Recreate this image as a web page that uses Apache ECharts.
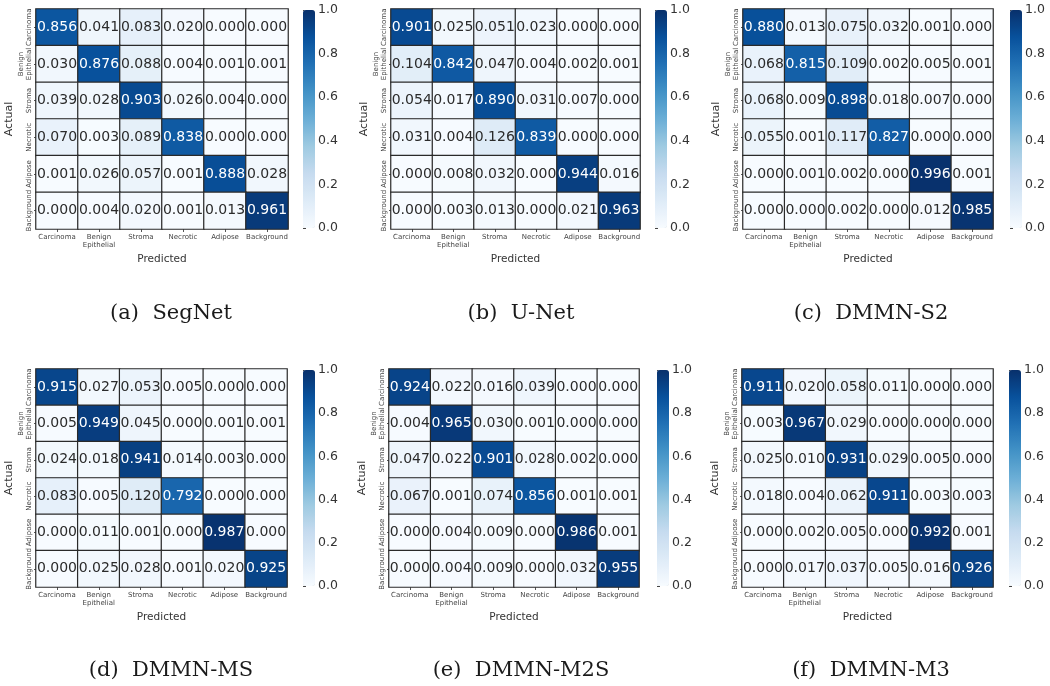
<!DOCTYPE html>
<html>
<head>
<meta charset="utf-8">
<script src="https://cdn.jsdelivr.net/npm/echarts@6/dist/echarts.min.js"></script>
<style>html,body{margin:0;padding:0;background:#fff;}#chart{width:1050px;height:686px;}</style>
</head>
<body>
<div id="chart"></div>
<script>
// ---- data ----
const predictedLabels = ['Carcinoma', 'Benign\nEpithelial', 'Stroma', 'Necrotic', 'Adipose', 'Background'];
const actualLabels = ['Carcinoma', 'Benign\nEpithelial', 'Stroma', 'Necrotic', 'Adipose', 'Background'];
const captions = ['(a)  SegNet', '(b)  U-Net', '(c)  DMMN-S2', '(d)  DMMN-MS', '(e)  DMMN-M2S', '(f)  DMMN-M3'];
const colorbarTicks = [0.0, 0.2, 0.4, 0.6, 0.8, 1.0];

const segnet = [
  [0.856, 0.041, 0.083, 0.020, 0.000, 0.000],
  [0.030, 0.876, 0.088, 0.004, 0.001, 0.001],
  [0.039, 0.028, 0.903, 0.026, 0.004, 0.000],
  [0.070, 0.003, 0.089, 0.838, 0.000, 0.000],
  [0.001, 0.026, 0.057, 0.001, 0.888, 0.028],
  [0.000, 0.004, 0.020, 0.001, 0.013, 0.961]
];
const unet = [
  [0.901, 0.025, 0.051, 0.023, 0.000, 0.000],
  [0.104, 0.842, 0.047, 0.004, 0.002, 0.001],
  [0.054, 0.017, 0.890, 0.031, 0.007, 0.000],
  [0.031, 0.004, 0.126, 0.839, 0.000, 0.000],
  [0.000, 0.008, 0.032, 0.000, 0.944, 0.016],
  [0.000, 0.003, 0.013, 0.000, 0.021, 0.963]
];
const dmmnS2 = [
  [0.880, 0.013, 0.075, 0.032, 0.001, 0.000],
  [0.068, 0.815, 0.109, 0.002, 0.005, 0.001],
  [0.068, 0.009, 0.898, 0.018, 0.007, 0.000],
  [0.055, 0.001, 0.117, 0.827, 0.000, 0.000],
  [0.000, 0.001, 0.002, 0.000, 0.996, 0.001],
  [0.000, 0.000, 0.002, 0.000, 0.012, 0.985]
];
const dmmnMS = [
  [0.915, 0.027, 0.053, 0.005, 0.000, 0.000],
  [0.005, 0.949, 0.045, 0.000, 0.001, 0.001],
  [0.024, 0.018, 0.941, 0.014, 0.003, 0.000],
  [0.083, 0.005, 0.120, 0.792, 0.000, 0.000],
  [0.000, 0.011, 0.001, 0.000, 0.987, 0.000],
  [0.000, 0.025, 0.028, 0.001, 0.020, 0.925]
];
const dmmnM2S = [
  [0.924, 0.022, 0.016, 0.039, 0.000, 0.000],
  [0.004, 0.965, 0.030, 0.001, 0.000, 0.000],
  [0.047, 0.022, 0.901, 0.028, 0.002, 0.000],
  [0.067, 0.001, 0.074, 0.856, 0.001, 0.001],
  [0.000, 0.004, 0.009, 0.000, 0.986, 0.001],
  [0.000, 0.004, 0.009, 0.000, 0.032, 0.955]
];
const dmmnM3 = [
  [0.911, 0.020, 0.058, 0.011, 0.000, 0.000],
  [0.003, 0.967, 0.029, 0.000, 0.000, 0.000],
  [0.025, 0.010, 0.931, 0.029, 0.005, 0.000],
  [0.018, 0.004, 0.062, 0.911, 0.003, 0.003],
  [0.000, 0.002, 0.005, 0.000, 0.992, 0.001],
  [0.000, 0.017, 0.037, 0.005, 0.016, 0.926]
];
const matrices = [segnet, unet, dmmnS2, dmmnMS, dmmnM2S, dmmnM3];

// ---- layout (positions only) ----
const panels = [
  {left: 36,  top: 9,   width: 252, height: 220, cbLeft: 303,  capX: 171, capY: 303},
  {left: 391, top: 9,   width: 249, height: 220, cbLeft: 655,  capX: 521, capY: 303},
  {left: 743, top: 9,   width: 250, height: 220, cbLeft: 1010, capX: 871, capY: 303},
  {left: 36,  top: 369, width: 251, height: 218, cbLeft: 303,  capX: 171, capY: 660},
  {left: 389, top: 369, width: 250, height: 218, cbLeft: 657,  capX: 521, capY: 660},
  {left: 742, top: 369, width: 251, height: 218, cbLeft: 1009, capX: 871, capY: 660}
];
const blues = ['#f7fbff', '#deebf7', '#c6dbef', '#9ecae1', '#6baed6', '#4292c6', '#2171b5', '#08519c', '#08306b'];

const grid = [], xAxis = [], yAxis = [], series = [], visualMap = [], title = [];
panels.forEach((p, i) => {
  grid.push({left: p.left, top: p.top, width: p.width, height: p.height});
  xAxis.push({
    type: 'category', gridIndex: i, data: predictedLabels,
    axisLine: {show: false},
    axisTick: {show: true, alignWithLabel: true, length: 3, lineStyle: {color: '#555'}},
    axisLabel: {fontSize: 7, color: '#444', margin: 4, interval: 0, lineHeight: 8},
    splitLine: {show: false},
    name: 'Predicted', nameLocation: 'middle', nameGap: 25,
    nameTextStyle: {fontSize: 10.5, color: '#333'}
  });
  yAxis.push({
    type: 'category', gridIndex: i, data: actualLabels, inverse: true,
    axisLine: {show: false},
    axisTick: {show: true, alignWithLabel: true, length: 2, lineStyle: {color: '#555'}},
    axisLabel: {fontSize: 7, color: '#444', margin: 3, rotate: 90, interval: 0, lineHeight: 8},
    splitLine: {show: false},
    name: 'Actual', nameLocation: 'middle', nameGap: 21,
    nameTextStyle: {fontSize: 11, color: '#333'}
  });
  const m = matrices[i];
  const data = [];
  m.forEach((row, r) => row.forEach((v, c) => {
    data.push({value: [c, r, v], label: {color: v > 0.5 ? '#ffffff' : '#2b2b2b'}});
  }));
  series.push({
    type: 'heatmap', xAxisIndex: i, yAxisIndex: i, data: data,
    itemStyle: {borderColor: '#2a2a2a', borderWidth: 1.2},
    label: {show: true, fontSize: 14, formatter: (q) => q.value[2].toFixed(3)},
    emphasis: {disabled: true}
  });
  visualMap.push({
    type: 'continuous', min: 0, max: 1, seriesIndex: i, calculable: false,
    left: p.cbLeft, top: p.top + 1, itemWidth: 12, itemHeight: p.height - 2,
    padding: 0, inRange: {color: blues}, hoverLink: false
  });
  title.push({
    text: captions[i], left: p.capX, top: p.capY, textAlign: 'center', padding: 0,
    textStyle: {fontFamily: 'DejaVu Serif', fontSize: 21, fontWeight: 'normal', color: '#1a1a1a'}
  });
});
// colorbar tick axes
panels.forEach((p, i) => {
  const gi = grid.length;
  grid.push({left: p.cbLeft, top: p.top + 1, width: 12, height: p.height - 2});
  xAxis.push({type: 'value', gridIndex: gi, show: false, min: 0, max: 1});
  yAxis.push({
    type: 'value', gridIndex: gi, position: 'right', min: colorbarTicks[0], max: colorbarTicks[colorbarTicks.length - 1], interval: 0.2,
    axisLine: {show: false},
    axisTick: {show: true, length: 3, lineStyle: {color: '#444'}},
    axisLabel: {fontSize: 12.5, color: '#333', margin: 3, formatter: (v) => v.toFixed(1)},
    splitLine: {show: false}
  });
});

const chart = echarts.init(document.getElementById('chart'), null, {renderer: 'canvas'});
chart.setOption({
  animation: false,
  textStyle: {fontFamily: 'DejaVu Sans'},
  title, grid, xAxis, yAxis, visualMap, series
});
</script>
</body>
</html>
